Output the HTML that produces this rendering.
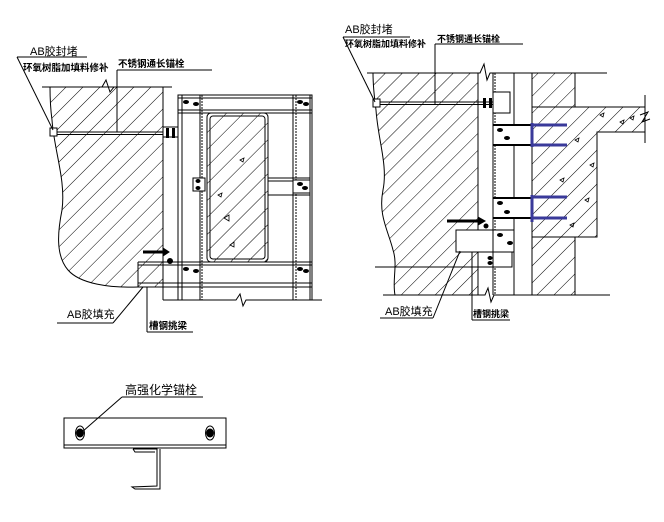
<!DOCTYPE html>
<html><head><meta charset="utf-8"><style>
html,body{margin:0;padding:0;background:#fff;width:664px;height:522px;overflow:hidden}
svg{display:block}
text{font-family:"Liberation Sans","Noto Sans CJK SC",sans-serif;fill:#000}
</style></head><body>
<svg width="664" height="522" viewBox="0 0 664 522" xmlns="http://www.w3.org/2000/svg">
<defs>
<pattern id="h" patternUnits="userSpaceOnUse" width="12" height="12" patternTransform="rotate(45)">
<rect width="12" height="12" fill="#fff"/><line x1="0" y1="0" x2="0" y2="12" stroke="#000" stroke-width="1"/>
</pattern>
</defs>
<g stroke="#000" fill="none" stroke-width="1">
<!-- LEFT DRAWING -->
<path d="M50,87 L163,87 L163,287 L138,287 L138,287 C110,288 80,284 68,270 C55,255 58,230 62,210 C66,180 54,150 52,120 C50,105 50,95 50,87 Z" fill="url(#h)"/>
<path d="M42,87 L102,87 L106,80 L110,92 L114,87 L172,87"/>
<line x1="163" y1="87" x2="163" y2="300"/>
<line x1="53" y1="132" x2="167" y2="132"/><line x1="53" y1="134.5" x2="167" y2="134.5"/>
<rect x="50" y="128" width="7" height="8" fill="#fff"/>
<rect x="163" y="127" width="16" height="10" fill="#fff"/>
<rect x="178" y="120" width="19" height="25" fill="#fff"/>
<!-- frame -->
<rect x="178" y="95" width="134" height="192" fill="#fff"/>
<line x1="182" y1="95" x2="182" y2="300"/><line x1="200" y1="95" x2="200" y2="300"/><line x1="202" y1="95" x2="202" y2="300" stroke-dasharray="2,1"/>
<line x1="178" y1="95" x2="178" y2="300"/>
<line x1="293" y1="95" x2="293" y2="300"/><line x1="296" y1="95" x2="296" y2="300" stroke-dasharray="2,1"/><line x1="310" y1="95" x2="310" y2="300"/><line x1="312" y1="95" x2="312" y2="300"/>
<line x1="178" y1="98" x2="312" y2="98"/><line x1="178" y1="110" x2="312" y2="110"/><line x1="178" y1="113" x2="312" y2="113"/>
<line x1="138" y1="262" x2="312" y2="262"/><line x1="138" y1="265" x2="312" y2="265"/><line x1="138" y1="283" x2="312" y2="283"/><line x1="138" y1="287" x2="312" y2="287"/>
<line x1="138" y1="262" x2="138" y2="287"/>
<rect x="207" y="113" width="61" height="149" rx="4" fill="url(#h)"/>
<rect x="210" y="116" width="55" height="143" rx="3"/>
<line x1="268" y1="178" x2="310" y2="178"/><line x1="268" y1="181" x2="310" y2="181"/><line x1="268" y1="195" x2="310" y2="195"/>
<rect x="293" y="180" width="17" height="13" fill="#fff"/>
<rect x="193" y="178" width="12" height="13" fill="#fff"/>
<path d="M163,300 L236,300 L240,294 L243,306 L246,300 L322,300"/>
<path d="M143,252 L165,252" stroke-width="3"/><path d="M163,248 L169,252 L163,256Z" fill="#000"/>
<circle cx="170" cy="261" r="2.5" fill="#000"/>
<g fill="#000" stroke="none">
<ellipse cx="186" cy="102" rx="3" ry="2"/><ellipse cx="196" cy="104" rx="3" ry="2"/><ellipse cx="300" cy="102" rx="3" ry="2"/><ellipse cx="306" cy="104" rx="3" ry="2"/>
<ellipse cx="186" cy="269" rx="3" ry="2"/><ellipse cx="196" cy="271" rx="3" ry="2"/><ellipse cx="300" cy="269" rx="3" ry="2"/><ellipse cx="306" cy="271" rx="3" ry="2"/>
<ellipse cx="198" cy="181" rx="2.5" ry="2"/><ellipse cx="198" cy="188" rx="2.5" ry="2"/><ellipse cx="300" cy="184" rx="3" ry="2"/><ellipse cx="305" cy="188" rx="3" ry="2"/>
<rect x="166" y="128" width="3" height="10"/><rect x="172" y="128" width="3" height="10"/>
</g>
<g stroke-width="0.8">
<path d="M240,160 l4,-2 l-1,4z"/><path d="M218,195 l4,-2 l-1,4z"/><path d="M224,218 l5,-3 l0,6z"/><path d="M230,245 l4,-3 l0,5z"/>
</g>
<!-- left labels leaders -->
<line x1="17" y1="57" x2="87" y2="57"/><line x1="17" y1="57" x2="53" y2="130"/>
<line x1="117" y1="70" x2="212" y2="70"/><line x1="117" y1="70" x2="117" y2="132"/>
<line x1="57" y1="323" x2="113" y2="323"/><line x1="113" y1="323" x2="143" y2="287"/>
<line x1="147" y1="287" x2="147" y2="332"/><line x1="147" y1="332" x2="193" y2="332"/>

<!-- RIGHT DRAWING -->
<path d="M373,73 L478,73 L478,295 L395,295 C392,280 398,265 393,250 C388,230 378,215 383,190 C388,165 378,140 376,110 C374,95 373,85 373,73 Z" fill="url(#h)"/>
<path d="M532,73 L575,73 L575,107 L645,107 L645,132 L597,132 L597,237 L575,237 L575,295 L532,295 Z" fill="url(#h)"/>
<line x1="532" y1="107" x2="575" y2="107"/><line x1="575" y1="237" x2="532" y2="237"/>
<g stroke-width="0.8">
<path d="M600,115 l4,-2 l-1,4z"/><path d="M620,122 l4,-2 l-1,4z"/><path d="M575,140 l4,-2 l-1,4z"/><path d="M590,165 l4,-2 l-1,4z"/><path d="M560,180 l4,-2 l-1,4z"/><path d="M585,200 l4,-2 l-1,4z"/><path d="M570,225 l4,-2 l-1,4z"/><path d="M630,118 l4,-2 l-1,4z"/>
</g>
<path d="M367,73 L480,73 L484,64 L487,80 L490,73 L607,73"/>
<path d="M383,295 L485,295 L488,288 L491,302 L494,295 L610,295"/>
<line x1="645" y1="95" x2="645" y2="143"/><path d="M640,115 L648,112 L642,122 L650,119" />
<line x1="478" y1="73" x2="478" y2="295"/>
<line x1="493" y1="73" x2="493" y2="295"/><line x1="495" y1="73" x2="495" y2="295" stroke-dasharray="2,1"/>
<line x1="514" y1="73" x2="514" y2="295"/><line x1="532" y1="73" x2="532" y2="295"/>
<line x1="375" y1="267" x2="478" y2="267"/>
<line x1="373" y1="102" x2="498" y2="102"/><line x1="373" y1="104.5" x2="498" y2="104.5"/>
<rect x="373" y="99" width="7" height="8" fill="#fff"/>
<rect x="493" y="92" width="17" height="21" fill="#fff"/>
<g fill="#000" stroke="none"><rect x="483" y="98" width="3" height="10"/><rect x="489" y="98" width="3" height="10"/></g>
<rect x="493" y="125" width="39" height="20" fill="#fff"/>
<rect x="493" y="198" width="39" height="20" fill="#fff"/>
<line x1="493" y1="125" x2="532" y2="125" stroke-width="2"/><line x1="493" y1="145" x2="532" y2="145" stroke-width="2"/>
<line x1="493" y1="198" x2="532" y2="198" stroke-width="2"/><line x1="493" y1="218" x2="532" y2="218" stroke-width="2"/>
<g stroke="#3a3a9a" stroke-width="3">
<line x1="532" y1="123" x2="532" y2="147"/><line x1="532" y1="125" x2="567" y2="125"/><line x1="532" y1="145" x2="567" y2="145"/>
<line x1="532" y1="195" x2="532" y2="222"/><line x1="532" y1="197" x2="567" y2="197"/><line x1="532" y1="218" x2="567" y2="218"/>
</g>
<rect x="456" y="230" width="58" height="22" fill="#fff"/>
<rect x="478" y="252" width="34" height="15" fill="#fff"/>
<line x1="493" y1="230" x2="493" y2="267"/>
<path d="M447,221 L480,221" stroke-width="3"/><path d="M478,217 L485,221 L478,225Z" fill="#000"/>
<g fill="#000" stroke="none">
<ellipse cx="500" cy="130" rx="3" ry="2"/><ellipse cx="507" cy="138" rx="3" ry="2"/>
<ellipse cx="500" cy="203" rx="3" ry="2"/><ellipse cx="507" cy="212" rx="3" ry="2"/>
<ellipse cx="500" cy="235" rx="3" ry="2"/><ellipse cx="510" cy="243" rx="3" ry="2"/>
<ellipse cx="490" cy="258" rx="2.5" ry="2"/><ellipse cx="490" cy="263" rx="2.5" ry="2"/>
<circle cx="486" cy="226" r="2.5"/>
</g>
<line x1="343" y1="37" x2="410" y2="37"/><line x1="343" y1="37" x2="375" y2="102"/>
<line x1="435" y1="44" x2="523" y2="44"/><line x1="435" y1="44" x2="435" y2="105"/>
<line x1="380" y1="318" x2="433" y2="318"/><line x1="433" y1="318" x2="460" y2="251"/>
<line x1="472" y1="252" x2="472" y2="320"/><line x1="472" y1="320" x2="510" y2="320"/>

<!-- BOTTOM DRAWING -->
<line x1="122" y1="397" x2="203" y2="397"/><line x1="122" y1="397" x2="82" y2="432"/>
<rect x="64" y="418" width="162" height="30"/>
<line x1="64" y1="445" x2="226" y2="445"/>
<ellipse cx="80" cy="433" rx="4.5" ry="7"/><ellipse cx="210" cy="433" rx="4.5" ry="7"/>
<ellipse cx="80" cy="433" rx="3.5" ry="4" fill="#000"/><ellipse cx="210" cy="433" rx="3.5" ry="4" fill="#000"/>
<path d="M133,449 L157,449 L157,486 L132,487 L135,489 L160,489 L160,449"/>
<path d="M133,449 L135,452 L155,452"/>
</g>
<g font-size="10">
<text x="30" y="55" font-size="11">AB胶封堵</text>
<text x="23" y="71" font-size="9.5" font-weight="bold">环氧树脂加填料修补</text>
<text x="118" y="67" font-size="9.5" font-weight="bold">不锈钢通长锚栓</text>
<text x="67" y="318" font-size="11">AB胶填充</text>
<text x="149" y="329" font-size="9.5" font-weight="bold">槽钢挑梁</text>
<text x="345" y="33" font-size="11">AB胶封堵</text>
<text x="345" y="47" font-size="9" font-weight="bold">环氧树脂加填料修补</text>
<text x="437" y="42" font-size="9" font-weight="bold">不锈钢通长锚栓</text>
<text x="385" y="315" font-size="11">AB胶填充</text>
<text x="473" y="317" font-size="9" font-weight="bold">槽钢挑梁</text>
<text x="125" y="394" font-size="12">高强化学锚栓</text>
</g>
</svg>
</body></html>
